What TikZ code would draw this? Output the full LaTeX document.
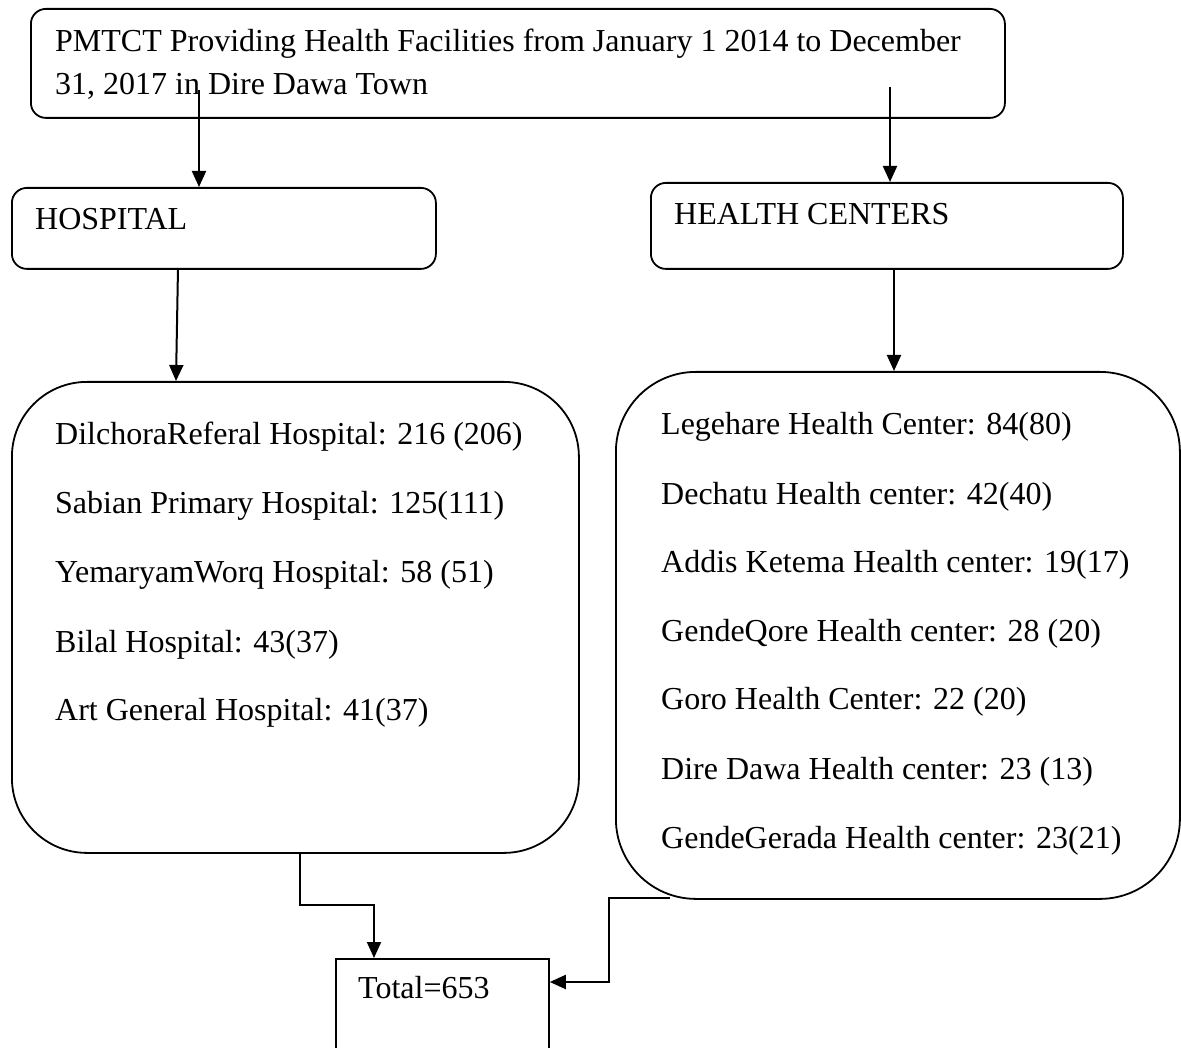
\documentclass[tikz,border=0pt]{standalone}
\usepackage{fontspec}
\setmainfont{Liberation Serif}
\usetikzlibrary{arrows.meta,calc}
\begin{document}
\begin{tikzpicture}[x=1pt,y=-1pt,
  box/.style={draw,line width=1.8pt,inner sep=0pt,anchor=north west},
  txt/.style={anchor=base west,inner sep=0pt,font=\fontsize{32}{38}\selectfont},
  arr/.style={line width=2pt,-{Triangle[length=16pt,width=14pt]}}]
\useasboundingbox (0,0) rectangle (1181,1048);
\clip (0,0) rectangle (1181,1048);
% boxes
\node[box,rounded corners=15pt,minimum width=974pt,minimum height=109pt] (top) at (30,8) {};
\node[box,rounded corners=15pt,minimum width=424pt,minimum height=81pt] (hosp) at (11,187) {};
\node[box,rounded corners=15pt,minimum width=472pt,minimum height=86pt] (hc) at (650,182) {};
\node[box,rounded corners=75pt,minimum width=567pt,minimum height=471pt] (hlist) at (11,381) {};
\node[box,rounded corners=80pt,minimum width=564pt,minimum height=527pt] (clist) at (615,371) {};
\node[box,minimum width=213pt,minimum height=160pt] (total) at (335,958) {};
% texts
\node[txt] (t1) at (55,52) {PMTCT Providing Health Facilities from January 1 2014 to December};
\node[txt] (t2) at (55,95) {31, 2017 in Dire Dawa Town};
\node[txt] (th) at (35,230) {HOSPITAL};
\node[txt] (tc) at (674,225) {HEALTH CENTERS};
\node[txt] (h1) at (55,445) {DilchoraReferal Hospital: 216 (206)};
\node[txt] (h2) at (55,513) {Sabian Primary Hospital: 125(111)};
\node[txt] (h3) at (55,582) {YemaryamWorq Hospital: 58 (51)};
\node[txt] (h4) at (55,652) {Bilal Hospital: 43(37)};
\node[txt] (h5) at (55,720) {Art General Hospital: 41(37)};
\node[txt] (c1) at (661,435) {Legehare Health Center: 84(80)};
\node[txt] (c2) at (661,504) {Dechatu Health center: 42(40)};
\node[txt] (c3) at (661,572) {Addis Ketema Health center: 19(17)};
\node[txt] (c4) at (661,641) {GendeQore Health center: 28 (20)};
\node[txt] (c5) at (661,709) {Goro Health Center: 22 (20)};
\node[txt] (c6) at (661,779) {Dire Dawa Health center: 23 (13)};
\node[txt] (c7) at (661,848) {GendeGerada Health center: 23(21)};
\node[txt] (tt) at (358,998) {Total=653};
% connectors
\coordinate (s1) at (199,90);
\draw[arr] (s1) -- (s1 |- hosp.north);
\coordinate (s2) at (890,87);
\draw[arr] (s2) -- (s2 |- hc.north);
\coordinate (s3) at (178,268);
\coordinate (e3) at (176,381);
\draw[arr] (s3) -- (e3);
\coordinate (s4) at (894,268);
\draw[arr] (s4) -- (s4 |- clist.north);
\coordinate (s5) at (300,852);
\coordinate (m5) at (374,905);
\draw[arr] (s5) |- (m5) -- (m5 |- total.north);
\coordinate (s6) at (670,898);
\coordinate (m6) at (609,982);
\draw[arr] (s6) -| (m6) -- (total.north east |- m6);
\end{tikzpicture}
\end{document}
